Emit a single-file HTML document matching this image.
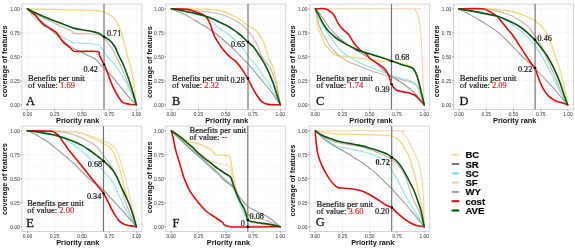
<!DOCTYPE html>
<html><head><meta charset="utf-8"><style>
html,body{margin:0;padding:0;background:#fff;}
svg{display:block;will-change:transform;}
.tk{font-family:"Liberation Sans",sans-serif;font-size:4.9px;fill:#4a4a4a;stroke:#4a4a4a;stroke-width:0.06px;}
.at{font-family:"Liberation Sans",sans-serif;font-size:7.35px;font-weight:bold;fill:#111;}
.lb{font-family:"Liberation Serif",serif;font-size:8.2px;fill:#1a1a1a;stroke:#1a1a1a;stroke-width:0.22px;}
.bn{font-family:"Liberation Serif",serif;font-size:8.5px;fill:#151515;stroke:#151515;stroke-width:0.2px;}
.rv{fill:#d42a32;stroke:#d42a32;}
.pl{font-family:"Liberation Serif",serif;font-size:12.4px;fill:#111;stroke:#111;stroke-width:0.28px;}
.lg{font-family:"Liberation Sans",sans-serif;font-size:9.6px;font-weight:bold;fill:#000;stroke:#000;stroke-width:0.15px;}
</style></head><body>
<svg width="575" height="248" viewBox="0 0 575 248">
<rect x="21.95" y="4.1" width="119.9" height="105.5" fill="#fff"/>
<line x1="41.02" y1="4.1" x2="41.02" y2="109.6" stroke="#f4f4f4" stroke-width="0.5"/>
<line x1="21.95" y1="92.81" x2="141.85" y2="92.81" stroke="#f4f4f4" stroke-width="0.5"/>
<line x1="68.28" y1="4.1" x2="68.28" y2="109.6" stroke="#f4f4f4" stroke-width="0.5"/>
<line x1="21.95" y1="68.84" x2="141.85" y2="68.84" stroke="#f4f4f4" stroke-width="0.5"/>
<line x1="95.53" y1="4.1" x2="95.53" y2="109.6" stroke="#f4f4f4" stroke-width="0.5"/>
<line x1="21.95" y1="44.86" x2="141.85" y2="44.86" stroke="#f4f4f4" stroke-width="0.5"/>
<line x1="122.78" y1="4.1" x2="122.78" y2="109.6" stroke="#f4f4f4" stroke-width="0.5"/>
<line x1="21.95" y1="20.89" x2="141.85" y2="20.89" stroke="#f4f4f4" stroke-width="0.5"/>
<line x1="27.4" y1="4.1" x2="27.4" y2="109.6" stroke="#ececec" stroke-width="0.6"/>
<line x1="21.95" y1="104.8" x2="141.85" y2="104.8" stroke="#ececec" stroke-width="0.6"/>
<line x1="54.65" y1="4.1" x2="54.65" y2="109.6" stroke="#ececec" stroke-width="0.6"/>
<line x1="21.95" y1="80.83" x2="141.85" y2="80.83" stroke="#ececec" stroke-width="0.6"/>
<line x1="81.9" y1="4.1" x2="81.9" y2="109.6" stroke="#ececec" stroke-width="0.6"/>
<line x1="21.95" y1="56.85" x2="141.85" y2="56.85" stroke="#ececec" stroke-width="0.6"/>
<line x1="109.15" y1="4.1" x2="109.15" y2="109.6" stroke="#ececec" stroke-width="0.6"/>
<line x1="21.95" y1="32.88" x2="141.85" y2="32.88" stroke="#ececec" stroke-width="0.6"/>
<line x1="136.4" y1="4.1" x2="136.4" y2="109.6" stroke="#ececec" stroke-width="0.6"/>
<line x1="21.95" y1="8.9" x2="141.85" y2="8.9" stroke="#ececec" stroke-width="0.6"/>
<rect x="21.95" y="4.1" width="119.9" height="105.5" fill="none" stroke="#d0d0d0" stroke-width="0.9"/>
<line x1="20.35" y1="104.8" x2="21.95" y2="104.8" stroke="#444" stroke-width="0.5"/>
<line x1="27.4" y1="109.6" x2="27.4" y2="111.2" stroke="#444" stroke-width="0.5"/>
<text x="19.75" y="106.6" class="tk" text-anchor="end">0.00</text>
<text x="27.4" y="116.4" class="tk" text-anchor="middle">0.00</text>
<line x1="20.35" y1="80.83" x2="21.95" y2="80.83" stroke="#444" stroke-width="0.5"/>
<line x1="54.65" y1="109.6" x2="54.65" y2="111.2" stroke="#444" stroke-width="0.5"/>
<text x="19.75" y="82.63" class="tk" text-anchor="end">0.25</text>
<text x="54.65" y="116.4" class="tk" text-anchor="middle">0.25</text>
<line x1="20.35" y1="56.85" x2="21.95" y2="56.85" stroke="#444" stroke-width="0.5"/>
<line x1="81.9" y1="109.6" x2="81.9" y2="111.2" stroke="#444" stroke-width="0.5"/>
<text x="19.75" y="58.65" class="tk" text-anchor="end">0.50</text>
<text x="81.9" y="116.4" class="tk" text-anchor="middle">0.50</text>
<line x1="20.35" y1="32.88" x2="21.95" y2="32.88" stroke="#444" stroke-width="0.5"/>
<line x1="109.15" y1="109.6" x2="109.15" y2="111.2" stroke="#444" stroke-width="0.5"/>
<text x="19.75" y="34.67" class="tk" text-anchor="end">0.75</text>
<text x="109.15" y="116.4" class="tk" text-anchor="middle">0.75</text>
<line x1="20.35" y1="8.9" x2="21.95" y2="8.9" stroke="#444" stroke-width="0.5"/>
<line x1="136.4" y1="109.6" x2="136.4" y2="111.2" stroke="#444" stroke-width="0.5"/>
<text x="19.75" y="10.7" class="tk" text-anchor="end">1.00</text>
<text x="136.4" y="116.4" class="tk" text-anchor="middle">1.00</text>
<text x="77.7" y="123.2" class="at" text-anchor="middle">Priority rank</text>
<text transform="translate(6.8,61.3) rotate(-90)" class="at" text-anchor="middle">coverage of features</text>
<path d="M27.4,8.9 C32.83,9.02 48.55,9.33 60,9.6 C71.45,9.87 88.63,10.05 96.1,10.5 C103.57,10.95 102.18,11.35 104.8,12.3 C107.42,13.25 109.85,14.65 111.8,16.2 C113.75,17.75 115.07,19.3 116.5,21.6 C117.93,23.9 119.08,26.4 120.4,30 C121.72,33.6 123.3,39.03 124.4,43.2 C125.5,47.37 126.02,51.25 127,55 C127.98,58.75 129.22,61.43 130.3,65.7 C131.38,69.97 132.48,74.08 133.5,80.6 C134.52,87.12 135.92,100.77 136.4,104.8" fill="none" stroke="#f0d87c" stroke-width="1.3" stroke-linejoin="round" stroke-linecap="round"/>
<path d="M27.4,8.9 C30.13,10.45 38.37,15.4 43.8,18.2 C49.23,21 55.28,23.53 60,25.7 C64.72,27.87 69.72,29.92 72.1,31.2 C74.48,32.48 69.93,32.85 74.3,33.4 C78.67,33.95 93.22,33.58 98.3,34.5 C103.38,35.42 102.68,36.82 104.8,38.9 C106.92,40.98 109.25,44.32 111,47 C112.75,49.68 113.7,51.88 115.3,55 C116.9,58.12 118.82,61.78 120.6,65.7 C122.38,69.62 124.22,74.23 126,78.5 C127.78,82.77 129.57,86.92 131.3,91.3 C133.03,95.68 135.55,102.55 136.4,104.8" fill="none" stroke="#c9b3a6" stroke-width="1.1" stroke-linejoin="round" stroke-linecap="round"/>
<path d="M27.4,8.9 C28.48,10.27 31.18,14.3 33.9,17.1 C36.62,19.9 40.25,23.17 43.7,25.7 C47.15,28.23 50.97,30.12 54.6,32.3 C58.23,34.48 62.6,37.18 65.5,38.8 C68.4,40.42 70.53,41.33 72,42 C73.47,42.67 70.28,42.42 74.3,42.8 C78.32,43.18 91.57,43.5 96.1,44.3 C100.63,45.1 99.93,45.9 101.5,47.6 C103.07,49.3 103.73,52.2 105.5,54.5 C107.27,56.8 109.93,58.82 112.1,61.4 C114.27,63.98 116.37,66.8 118.5,70 C120.63,73.2 122.93,77.05 124.9,80.6 C126.87,84.15 128.38,87.27 130.3,91.3 C132.22,95.33 135.38,102.55 136.4,104.8" fill="none" stroke="#90e4e4" stroke-width="1.1" stroke-linejoin="round" stroke-linecap="round"/>
<path d="M27.4,8.9 C29.4,10.63 35.58,15.93 39.4,19.3 C43.22,22.67 46.67,25.83 50.3,29.1 C53.93,32.37 57.57,35.82 61.2,38.9 C64.83,41.98 67.73,44.88 72.1,47.6 C76.47,50.32 83.77,53.47 87.4,55.2 C91.03,56.93 92.27,57.03 93.9,58 C95.53,58.97 95.6,59.37 97.2,61 C98.8,62.63 101.02,65.23 103.5,67.8 C105.98,70.37 109.25,73.18 112.1,76.4 C114.95,79.62 117.75,83.55 120.6,87.1 C123.45,90.65 126.57,94.75 129.2,97.7 C131.83,100.65 135.2,103.62 136.4,104.8" fill="none" stroke="#959595" stroke-width="1.05" stroke-linejoin="round" stroke-linecap="round"/>
<path d="M27.4,8.9 C28.67,9.9 33,13 35,14.9 C37,16.8 37.95,18.67 39.4,20.3 C40.85,21.93 42.07,23.43 43.7,24.7 C45.33,25.97 47.38,26.82 49.2,27.9 C51.02,28.98 53.15,30.12 54.6,31.2 C56.05,32.28 56.63,32.77 57.9,34.4 C59.17,36.03 60.93,39.37 62.2,41 C63.47,42.63 64.23,43.12 65.5,44.2 C66.77,45.28 68.53,46.42 69.8,47.5 C71.07,48.58 72.02,50.03 73.1,50.7 C74.18,51.37 72.28,51.37 76.3,51.5 C80.32,51.63 93.37,50.92 97.2,51.5 C101.03,52.08 98.42,53.35 99.3,55 C100.18,56.65 101.72,59.82 102.5,61.4 C103.28,62.98 103.47,63.43 104,64.5 C104.53,65.57 104.88,65.82 105.7,67.8 C106.52,69.78 107.83,73.55 108.9,76.4 C109.97,79.25 110.85,82.05 112.1,84.9 C113.35,87.75 114.98,91 116.4,93.5 C117.82,96 119.45,98.38 120.6,99.9 C121.75,101.42 122.4,101.98 123.3,102.6 C124.2,103.22 124.88,103.33 126,103.6 C127.12,103.87 128.27,104 130,104.2 C131.73,104.4 135.33,104.7 136.4,104.8" fill="none" stroke="#e00c0c" stroke-width="1.6" stroke-linejoin="round" stroke-linecap="round"/>
<path d="M27.4,8.9 C29.05,9.72 33.48,12.07 37.3,13.8 C41.12,15.53 44.5,17.02 50.3,19.3 C56.1,21.58 68.1,25.98 72.1,27.5 C76.1,29.02 70.67,27.67 74.3,28.4 C77.93,29.13 89.55,30.95 93.9,31.9 C98.25,32.85 98.77,33.3 100.4,34.1 C102.03,34.9 102.25,35.73 103.7,36.7 C105.15,37.67 107.3,38.35 109.1,39.9 C110.9,41.45 112.93,43.48 114.5,46 C116.07,48.52 117.12,52.08 118.5,55 C119.88,57.92 121.38,60.3 122.8,63.5 C124.22,66.7 125.58,70.27 127,74.2 C128.42,78.13 129.73,82 131.3,87.1 C132.87,92.2 135.55,101.85 136.4,104.8" fill="none" stroke="#0a550f" stroke-width="1.6" stroke-linejoin="round" stroke-linecap="round"/>
<line x1="104" y1="4.1" x2="104" y2="109.6" stroke="#707070" stroke-width="1.15"/>
<circle cx="104" cy="36.7" r="1.3" fill="#000"/>
<text x="106.9" y="35.9" class="lb">0.71</text>
<circle cx="104" cy="64.5" r="1.3" fill="#000"/>
<text x="83.5" y="72" class="lb">0.42</text>
<text x="28" y="80.6" class="bn">Benefits per unit</text>
<text x="28" y="87.7" class="bn">of value: <tspan class="rv">1.69</tspan></text>
<text x="26" y="105.4" class="pl">A</text>
<rect x="165.85" y="4.1" width="119.9" height="105.5" fill="#fff"/>
<line x1="184.93" y1="4.1" x2="184.93" y2="109.6" stroke="#f4f4f4" stroke-width="0.5"/>
<line x1="165.85" y1="92.81" x2="285.75" y2="92.81" stroke="#f4f4f4" stroke-width="0.5"/>
<line x1="212.18" y1="4.1" x2="212.18" y2="109.6" stroke="#f4f4f4" stroke-width="0.5"/>
<line x1="165.85" y1="68.84" x2="285.75" y2="68.84" stroke="#f4f4f4" stroke-width="0.5"/>
<line x1="239.43" y1="4.1" x2="239.43" y2="109.6" stroke="#f4f4f4" stroke-width="0.5"/>
<line x1="165.85" y1="44.86" x2="285.75" y2="44.86" stroke="#f4f4f4" stroke-width="0.5"/>
<line x1="266.68" y1="4.1" x2="266.68" y2="109.6" stroke="#f4f4f4" stroke-width="0.5"/>
<line x1="165.85" y1="20.89" x2="285.75" y2="20.89" stroke="#f4f4f4" stroke-width="0.5"/>
<line x1="171.3" y1="4.1" x2="171.3" y2="109.6" stroke="#ececec" stroke-width="0.6"/>
<line x1="165.85" y1="104.8" x2="285.75" y2="104.8" stroke="#ececec" stroke-width="0.6"/>
<line x1="198.55" y1="4.1" x2="198.55" y2="109.6" stroke="#ececec" stroke-width="0.6"/>
<line x1="165.85" y1="80.83" x2="285.75" y2="80.83" stroke="#ececec" stroke-width="0.6"/>
<line x1="225.8" y1="4.1" x2="225.8" y2="109.6" stroke="#ececec" stroke-width="0.6"/>
<line x1="165.85" y1="56.85" x2="285.75" y2="56.85" stroke="#ececec" stroke-width="0.6"/>
<line x1="253.05" y1="4.1" x2="253.05" y2="109.6" stroke="#ececec" stroke-width="0.6"/>
<line x1="165.85" y1="32.88" x2="285.75" y2="32.88" stroke="#ececec" stroke-width="0.6"/>
<line x1="280.3" y1="4.1" x2="280.3" y2="109.6" stroke="#ececec" stroke-width="0.6"/>
<line x1="165.85" y1="8.9" x2="285.75" y2="8.9" stroke="#ececec" stroke-width="0.6"/>
<rect x="165.85" y="4.1" width="119.9" height="105.5" fill="none" stroke="#d0d0d0" stroke-width="0.9"/>
<line x1="164.25" y1="104.8" x2="165.85" y2="104.8" stroke="#444" stroke-width="0.5"/>
<line x1="171.3" y1="109.6" x2="171.3" y2="111.2" stroke="#444" stroke-width="0.5"/>
<text x="163.65" y="106.6" class="tk" text-anchor="end">0.00</text>
<text x="171.3" y="116.4" class="tk" text-anchor="middle">0.00</text>
<line x1="164.25" y1="80.83" x2="165.85" y2="80.83" stroke="#444" stroke-width="0.5"/>
<line x1="198.55" y1="109.6" x2="198.55" y2="111.2" stroke="#444" stroke-width="0.5"/>
<text x="163.65" y="82.63" class="tk" text-anchor="end">0.25</text>
<text x="198.55" y="116.4" class="tk" text-anchor="middle">0.25</text>
<line x1="164.25" y1="56.85" x2="165.85" y2="56.85" stroke="#444" stroke-width="0.5"/>
<line x1="225.8" y1="109.6" x2="225.8" y2="111.2" stroke="#444" stroke-width="0.5"/>
<text x="163.65" y="58.65" class="tk" text-anchor="end">0.50</text>
<text x="225.8" y="116.4" class="tk" text-anchor="middle">0.50</text>
<line x1="164.25" y1="32.88" x2="165.85" y2="32.88" stroke="#444" stroke-width="0.5"/>
<line x1="253.05" y1="109.6" x2="253.05" y2="111.2" stroke="#444" stroke-width="0.5"/>
<text x="163.65" y="34.67" class="tk" text-anchor="end">0.75</text>
<text x="253.05" y="116.4" class="tk" text-anchor="middle">0.75</text>
<line x1="164.25" y1="8.9" x2="165.85" y2="8.9" stroke="#444" stroke-width="0.5"/>
<line x1="280.3" y1="109.6" x2="280.3" y2="111.2" stroke="#444" stroke-width="0.5"/>
<text x="163.65" y="10.7" class="tk" text-anchor="end">1.00</text>
<text x="280.3" y="116.4" class="tk" text-anchor="middle">1.00</text>
<text x="226.8" y="123.2" class="at" text-anchor="middle">Priority rank</text>
<text transform="translate(152,62.2) rotate(-90)" class="at" text-anchor="middle">coverage of features</text>
<path d="M171.4,8.8 C175.22,8.8 187.93,8.7 194.3,8.8 C200.67,8.9 205.23,9.12 209.6,9.4 C213.97,9.68 217.23,9.77 220.5,10.5 C223.77,11.23 226.3,12.52 229.2,13.8 C232.1,15.08 235,16.38 237.9,18.2 C240.8,20.02 243.7,22.72 246.6,24.7 C249.5,26.68 252.75,27.73 255.3,30.1 C257.85,32.47 260.08,35.62 261.9,38.9 C263.72,42.18 265.05,46.62 266.2,49.8 C267.35,52.98 267.7,55.15 268.8,58 C269.9,60.85 271.42,62.52 272.8,66.9 C274.18,71.28 275.85,77.98 277.1,84.3 C278.35,90.62 279.77,101.38 280.3,104.8" fill="none" stroke="#f0d87c" stroke-width="1.3" stroke-linejoin="round" stroke-linecap="round"/>
<path d="M171.4,8.8 C175.22,9.08 187.22,9.85 194.3,10.5 C201.38,11.15 208.45,11.7 213.9,12.7 C219.35,13.7 222.82,14.87 227,16.5 C231.18,18.13 235.42,20 239,22.5 C242.58,25 245.58,28.05 248.5,31.5 C251.42,34.95 254.22,38.95 256.5,43.2 C258.78,47.45 259.85,52.68 262.2,57 C264.55,61.32 268.3,64.55 270.6,69.1 C272.9,73.65 274.38,78.35 276,84.3 C277.62,90.25 279.58,101.38 280.3,104.8" fill="none" stroke="#c9b3a6" stroke-width="1.1" stroke-linejoin="round" stroke-linecap="round"/>
<path d="M171.4,8.8 C173,9.08 177.22,9.78 181,10.5 C184.78,11.22 190.1,12.15 194.1,13.1 C198.1,14.05 202.1,14.92 205,16.2 C207.9,17.48 209.33,18.97 211.5,20.8 C213.67,22.63 215.17,24.92 218,27.2 C220.83,29.48 225.18,31.87 228.5,34.5 C231.82,37.13 235.25,40.42 237.9,43 C240.55,45.58 242.58,47.67 244.4,50 C246.22,52.33 246.62,54.18 248.8,57 C250.98,59.82 254.6,63.07 257.5,66.9 C260.4,70.73 263.3,75.47 266.2,80 C269.1,84.53 272.55,89.97 274.9,94.1 C277.25,98.23 279.4,103.02 280.3,104.8" fill="none" stroke="#90e4e4" stroke-width="1.1" stroke-linejoin="round" stroke-linecap="round"/>
<path d="M171.4,8.8 C173.75,9.82 181,12.62 185.5,14.9 C190,17.18 194.07,19.9 198.4,22.5 C202.73,25.1 206.73,27.08 211.5,30.5 C216.27,33.92 222.97,39.58 227,43 C231.03,46.42 233.15,48.5 235.7,51 C238.25,53.5 240.12,55.72 242.3,58 C244.48,60.28 245.9,61.4 248.8,64.7 C251.7,68 256.07,73.43 259.7,77.8 C263.33,82.17 267.17,86.4 270.6,90.9 C274.03,95.4 278.68,102.48 280.3,104.8" fill="none" stroke="#959595" stroke-width="1.05" stroke-linejoin="round" stroke-linecap="round"/>
<path d="M171.4,8.8 C174.1,8.9 183.45,8.82 187.6,9.4 C191.75,9.98 193.77,11.47 196.3,12.3 C198.83,13.13 201,13.43 202.8,14.4 C204.6,15.37 205.83,16.38 207.1,18.1 C208.37,19.82 209.48,22.52 210.4,24.7 C211.32,26.88 211.88,29.22 212.6,31.2 C213.32,33.18 213.8,34.8 214.7,36.6 C215.6,38.4 216.73,40 218,42 C219.27,44 220.63,46.42 222.3,48.6 C223.97,50.78 226.48,53.53 228,55.1 C229.52,56.67 230.12,56.95 231.4,58 C232.68,59.05 233.88,59.47 235.7,61.4 C237.52,63.33 240.3,66.77 242.3,69.6 C244.3,72.43 246.08,75.53 247.7,78.4 C249.32,81.27 250.37,83.82 252,86.8 C253.63,89.78 255.85,93.8 257.5,96.3 C259.15,98.8 260.08,100.45 261.9,101.8 C263.72,103.15 265.33,103.9 268.4,104.4 C271.47,104.9 278.32,104.73 280.3,104.8" fill="none" stroke="#e00c0c" stroke-width="1.6" stroke-linejoin="round" stroke-linecap="round"/>
<path d="M171.4,8.8 C173,9.08 177.22,9.78 181,10.5 C184.78,11.22 190.1,12.18 194.1,13.1 C198.1,14.02 201.73,14.98 205,16 C208.27,17.02 211.17,18.12 213.7,19.2 C216.23,20.28 217.82,21.33 220.2,22.5 C222.58,23.67 225.87,25.03 228,26.2 C230.13,27.37 231.35,28.37 233,29.5 C234.65,30.63 236.18,31.67 237.9,33 C239.62,34.33 241.67,36 243.3,37.5 C244.93,39 246.07,40.5 247.7,42 C249.33,43.5 251.1,44.17 253.1,46.5 C255.1,48.83 257.52,52.6 259.7,56 C261.88,59.4 264.02,62.55 266.2,66.9 C268.38,71.25 270.98,77.38 272.8,82.1 C274.62,86.82 275.85,91.42 277.1,95.2 C278.35,98.98 279.77,103.2 280.3,104.8" fill="none" stroke="#0a550f" stroke-width="1.6" stroke-linejoin="round" stroke-linecap="round"/>
<line x1="248" y1="4.1" x2="248" y2="109.6" stroke="#707070" stroke-width="1.15"/>
<circle cx="248" cy="42" r="1.3" fill="#000"/>
<text x="230.9" y="46.5" class="lb">0.65</text>
<circle cx="248" cy="78.4" r="1.3" fill="#000"/>
<text x="230.4" y="83" class="lb">0.28</text>
<text x="172.1" y="80.8" class="bn">Benefits per unit</text>
<text x="172.1" y="87.9" class="bn">of value: <tspan class="rv">2.32</tspan></text>
<text x="171.9" y="105.1" class="pl">B</text>
<rect x="309.75" y="4.1" width="119.9" height="105.5" fill="#fff"/>
<line x1="328.82" y1="4.1" x2="328.82" y2="109.6" stroke="#f4f4f4" stroke-width="0.5"/>
<line x1="309.75" y1="92.81" x2="429.65" y2="92.81" stroke="#f4f4f4" stroke-width="0.5"/>
<line x1="356.07" y1="4.1" x2="356.07" y2="109.6" stroke="#f4f4f4" stroke-width="0.5"/>
<line x1="309.75" y1="68.84" x2="429.65" y2="68.84" stroke="#f4f4f4" stroke-width="0.5"/>
<line x1="383.32" y1="4.1" x2="383.32" y2="109.6" stroke="#f4f4f4" stroke-width="0.5"/>
<line x1="309.75" y1="44.86" x2="429.65" y2="44.86" stroke="#f4f4f4" stroke-width="0.5"/>
<line x1="410.57" y1="4.1" x2="410.57" y2="109.6" stroke="#f4f4f4" stroke-width="0.5"/>
<line x1="309.75" y1="20.89" x2="429.65" y2="20.89" stroke="#f4f4f4" stroke-width="0.5"/>
<line x1="315.2" y1="4.1" x2="315.2" y2="109.6" stroke="#ececec" stroke-width="0.6"/>
<line x1="309.75" y1="104.8" x2="429.65" y2="104.8" stroke="#ececec" stroke-width="0.6"/>
<line x1="342.45" y1="4.1" x2="342.45" y2="109.6" stroke="#ececec" stroke-width="0.6"/>
<line x1="309.75" y1="80.83" x2="429.65" y2="80.83" stroke="#ececec" stroke-width="0.6"/>
<line x1="369.7" y1="4.1" x2="369.7" y2="109.6" stroke="#ececec" stroke-width="0.6"/>
<line x1="309.75" y1="56.85" x2="429.65" y2="56.85" stroke="#ececec" stroke-width="0.6"/>
<line x1="396.95" y1="4.1" x2="396.95" y2="109.6" stroke="#ececec" stroke-width="0.6"/>
<line x1="309.75" y1="32.88" x2="429.65" y2="32.88" stroke="#ececec" stroke-width="0.6"/>
<line x1="424.2" y1="4.1" x2="424.2" y2="109.6" stroke="#ececec" stroke-width="0.6"/>
<line x1="309.75" y1="8.9" x2="429.65" y2="8.9" stroke="#ececec" stroke-width="0.6"/>
<rect x="309.75" y="4.1" width="119.9" height="105.5" fill="none" stroke="#d0d0d0" stroke-width="0.9"/>
<line x1="308.15" y1="104.8" x2="309.75" y2="104.8" stroke="#444" stroke-width="0.5"/>
<line x1="315.2" y1="109.6" x2="315.2" y2="111.2" stroke="#444" stroke-width="0.5"/>
<text x="307.55" y="106.6" class="tk" text-anchor="end">0.00</text>
<text x="315.2" y="116.4" class="tk" text-anchor="middle">0.00</text>
<line x1="308.15" y1="80.83" x2="309.75" y2="80.83" stroke="#444" stroke-width="0.5"/>
<line x1="342.45" y1="109.6" x2="342.45" y2="111.2" stroke="#444" stroke-width="0.5"/>
<text x="307.55" y="82.63" class="tk" text-anchor="end">0.25</text>
<text x="342.45" y="116.4" class="tk" text-anchor="middle">0.25</text>
<line x1="308.15" y1="56.85" x2="309.75" y2="56.85" stroke="#444" stroke-width="0.5"/>
<line x1="369.7" y1="109.6" x2="369.7" y2="111.2" stroke="#444" stroke-width="0.5"/>
<text x="307.55" y="58.65" class="tk" text-anchor="end">0.50</text>
<text x="369.7" y="116.4" class="tk" text-anchor="middle">0.50</text>
<line x1="308.15" y1="32.88" x2="309.75" y2="32.88" stroke="#444" stroke-width="0.5"/>
<line x1="396.95" y1="109.6" x2="396.95" y2="111.2" stroke="#444" stroke-width="0.5"/>
<text x="307.55" y="34.67" class="tk" text-anchor="end">0.75</text>
<text x="396.95" y="116.4" class="tk" text-anchor="middle">0.75</text>
<line x1="308.15" y1="8.9" x2="309.75" y2="8.9" stroke="#444" stroke-width="0.5"/>
<line x1="424.2" y1="109.6" x2="424.2" y2="111.2" stroke="#444" stroke-width="0.5"/>
<text x="307.55" y="10.7" class="tk" text-anchor="end">1.00</text>
<text x="424.2" y="116.4" class="tk" text-anchor="middle">1.00</text>
<text x="371" y="123.2" class="at" text-anchor="middle">Priority rank</text>
<text transform="translate(294.7,61.3) rotate(-90)" class="at" text-anchor="middle">coverage of features</text>
<path d="M315.4,8.8 C315.58,9.83 316.05,11.7 316.5,15 C316.95,18.3 317.23,25.12 318.1,28.6 C318.97,32.08 320.55,33.27 321.7,35.9 C322.85,38.53 323.8,42.22 325,44.4 C326.2,46.58 327.4,47.38 328.9,49 C330.4,50.62 332.13,52.9 334,54.1 C335.87,55.3 337.42,55.68 340.1,56.2 C342.78,56.72 346.75,56.87 350.1,57.2 C353.45,57.53 356.85,57.77 360.2,58.2 C363.55,58.63 366.9,59.35 370.2,59.8 C373.5,60.25 376.45,60.58 380,60.9 C383.55,61.22 387.67,61.18 391.5,61.7 C395.33,62.22 399.75,63.2 403,64 C406.25,64.8 409,65.5 411,66.5 C413,67.5 413.83,67.75 415,70 C416.17,72.25 417,76.33 418,80 C419,83.67 419.97,87.87 421,92 C422.03,96.13 423.67,102.67 424.2,104.8" fill="none" stroke="#f0d87c" stroke-width="1.3" stroke-linejoin="round" stroke-linecap="round"/>
<path d="M315.4,8.8 C331.57,8.8 395.87,8.7 412.4,8.8 C428.93,8.9 413.7,8.38 414.6,9.4 C415.5,10.42 416.9,12.17 417.8,14.9 C418.7,17.63 419.45,22.17 420,25.8 C420.55,29.43 420.73,31.33 421.1,36.7 C421.47,42.07 421.88,50.78 422.2,58 C422.52,65.22 422.67,72.2 423,80 C423.33,87.8 424,100.67 424.2,104.8" fill="none" stroke="#f6d3ad" stroke-width="1.1" stroke-linejoin="round" stroke-linecap="round"/>
<path d="M315.4,8.8 C315.75,10.33 316.82,15.13 317.5,18 C318.18,20.87 318.67,23.5 319.5,26 C320.33,28.5 321.42,30.83 322.5,33 C323.58,35.17 324.87,37 326,39 C327.13,41 327.97,43 329.3,45 C330.63,47 332.12,49.02 334,51 C335.88,52.98 338.27,55.15 340.6,56.9 C342.93,58.65 345.18,60.08 348,61.5 C350.82,62.92 353.57,63.82 357.5,65.4 C361.43,66.98 367.85,69.65 371.6,71 C375.35,72.35 376.7,72.55 380,73.5 C383.3,74.45 387.9,75.7 391.4,76.7 C394.9,77.7 397.72,78.57 401,79.5 C404.28,80.43 408.67,81.38 411.1,82.3 C413.53,83.22 414.18,83.88 415.6,85 C417.02,86.12 418.17,85.7 419.6,89 C421.03,92.3 423.43,102.17 424.2,104.8" fill="none" stroke="#c9b3a6" stroke-width="1.1" stroke-linejoin="round" stroke-linecap="round"/>
<path d="M315.4,8.8 C315.92,10.17 317.45,14.47 318.5,17 C319.55,19.53 320.45,21.75 321.7,24 C322.95,26.25 324.62,28.5 326,30.5 C327.38,32.5 328.67,34.08 330,36 C331.33,37.92 332.7,40.08 334,42 C335.3,43.92 336.3,45.75 337.8,47.5 C339.3,49.25 341.12,50.93 343,52.5 C344.88,54.07 346.77,55.4 349.1,56.9 C351.43,58.4 354.18,60.08 357,61.5 C359.82,62.92 363.33,64.23 366,65.4 C368.67,66.57 370.65,67.57 373,68.5 C375.35,69.43 377.03,69.87 380.1,71 C383.17,72.13 387.92,74.05 391.4,75.3 C394.88,76.55 397.72,77.57 401,78.5 C404.28,79.43 408.47,79.8 411.1,80.9 C413.73,82 415.35,82.78 416.8,85.1 C418.25,87.42 418.57,91.52 419.8,94.8 C421.03,98.08 423.47,103.13 424.2,104.8" fill="none" stroke="#90e4e4" stroke-width="1.1" stroke-linejoin="round" stroke-linecap="round"/>
<path d="M315.4,8.8 C316.13,9.63 318.37,11.93 319.8,13.8 C321.23,15.67 322.3,17.55 324,20 C325.7,22.45 327.67,25.67 330,28.5 C332.33,31.33 335.32,34.5 338,37 C340.68,39.5 343.42,41.5 346.1,43.5 C348.78,45.5 351.08,47.08 354.1,49 C357.12,50.92 360.83,52.97 364.2,55 C367.57,57.03 371.67,59.2 374.3,61.2 C376.93,63.2 378,65.12 380,67 C382,68.88 384.2,70.83 386.3,72.5 C388.4,74.17 390.15,75.37 392.6,77 C395.05,78.63 398.2,80.38 401,82.3 C403.8,84.22 406.97,86.58 409.4,88.5 C411.83,90.42 413.13,91.08 415.6,93.8 C418.07,96.52 422.77,102.97 424.2,104.8" fill="none" stroke="#959595" stroke-width="1.05" stroke-linejoin="round" stroke-linecap="round"/>
<path d="M315.4,8.8 C317.03,8.8 322.47,8.15 325.2,8.8 C327.93,9.45 330.15,11.32 331.8,12.7 C333.45,14.08 334.02,15.28 335.1,17.1 C336.18,18.92 337.03,21.6 338.3,23.6 C339.57,25.6 341.07,27.37 342.7,29.1 C344.33,30.83 346.53,32.17 348.1,34 C349.67,35.83 350.75,38.08 352.1,40.1 C353.45,42.12 354.85,44.43 356.2,46.1 C357.55,47.77 358.53,48.78 360.2,50.1 C361.87,51.42 364.57,52.6 366.2,54 C367.83,55.4 368.15,56.95 370,58.5 C371.85,60.05 374.88,61.63 377.3,63.3 C379.72,64.97 382.68,66.68 384.5,68.5 C386.32,70.32 387.18,72.12 388.2,74.2 C389.22,76.28 390.05,79.33 390.6,81 C391.15,82.67 390.93,83.03 391.5,84.2 C392.07,85.37 393.08,86.98 394,88 C394.92,89.02 395.83,89.73 397,90.3 C398.17,90.87 398.93,90.95 401,91.4 C403.07,91.85 407.13,92.4 409.4,93 C411.67,93.6 413.03,94 414.6,95 C416.17,96 417.2,97.37 418.8,99 C420.4,100.63 423.3,103.83 424.2,104.8" fill="none" stroke="#e00c0c" stroke-width="1.6" stroke-linejoin="round" stroke-linecap="round"/>
<path d="M315.4,8.8 C315.67,9.33 316.45,10.98 317,12 C317.55,13.02 318.03,13.65 318.7,14.9 C319.37,16.15 320.27,18.05 321,19.5 C321.73,20.95 322.27,22.18 323.1,23.6 C323.93,25.02 324.92,26.55 326,28 C327.08,29.45 327.93,30.63 329.6,32.3 C331.27,33.97 333.58,36.2 336,38 C338.42,39.8 341.42,41.58 344.1,43.1 C346.78,44.62 349.42,45.77 352.1,47.1 C354.78,48.43 357.18,49.93 360.2,51.1 C363.22,52.27 366.9,53.1 370.2,54.1 C373.5,55.1 376.42,55.95 380,57.1 C383.58,58.25 388.2,59.78 391.7,61 C395.2,62.22 397.72,63.3 401,64.4 C404.28,65.5 409.13,66.55 411.4,67.6 C413.67,68.65 413.55,68.95 414.6,70.7 C415.65,72.45 416.65,74.78 417.7,78.1 C418.75,81.42 419.82,86.15 420.9,90.6 C421.98,95.05 423.65,102.43 424.2,104.8" fill="none" stroke="#0a550f" stroke-width="1.6" stroke-linejoin="round" stroke-linecap="round"/>
<line x1="391.5" y1="4.1" x2="391.5" y2="109.6" stroke="#707070" stroke-width="1.15"/>
<circle cx="391.5" cy="61" r="1.3" fill="#000"/>
<text x="395" y="59.7" class="lb">0.68</text>
<circle cx="391.5" cy="84.2" r="1.3" fill="#000"/>
<text x="375.3" y="91.6" class="lb">0.39</text>
<text x="316.2" y="80.7" class="bn">Benefits per unit</text>
<text x="316.2" y="87.8" class="bn">of value: <tspan class="rv">1.74</tspan></text>
<text x="316" y="105.1" class="pl">C</text>
<rect x="453.55" y="4.1" width="119.9" height="105.5" fill="#fff"/>
<line x1="472.62" y1="4.1" x2="472.62" y2="109.6" stroke="#f4f4f4" stroke-width="0.5"/>
<line x1="453.55" y1="92.81" x2="573.45" y2="92.81" stroke="#f4f4f4" stroke-width="0.5"/>
<line x1="499.88" y1="4.1" x2="499.88" y2="109.6" stroke="#f4f4f4" stroke-width="0.5"/>
<line x1="453.55" y1="68.84" x2="573.45" y2="68.84" stroke="#f4f4f4" stroke-width="0.5"/>
<line x1="527.12" y1="4.1" x2="527.12" y2="109.6" stroke="#f4f4f4" stroke-width="0.5"/>
<line x1="453.55" y1="44.86" x2="573.45" y2="44.86" stroke="#f4f4f4" stroke-width="0.5"/>
<line x1="554.38" y1="4.1" x2="554.38" y2="109.6" stroke="#f4f4f4" stroke-width="0.5"/>
<line x1="453.55" y1="20.89" x2="573.45" y2="20.89" stroke="#f4f4f4" stroke-width="0.5"/>
<line x1="459" y1="4.1" x2="459" y2="109.6" stroke="#ececec" stroke-width="0.6"/>
<line x1="453.55" y1="104.8" x2="573.45" y2="104.8" stroke="#ececec" stroke-width="0.6"/>
<line x1="486.25" y1="4.1" x2="486.25" y2="109.6" stroke="#ececec" stroke-width="0.6"/>
<line x1="453.55" y1="80.83" x2="573.45" y2="80.83" stroke="#ececec" stroke-width="0.6"/>
<line x1="513.5" y1="4.1" x2="513.5" y2="109.6" stroke="#ececec" stroke-width="0.6"/>
<line x1="453.55" y1="56.85" x2="573.45" y2="56.85" stroke="#ececec" stroke-width="0.6"/>
<line x1="540.75" y1="4.1" x2="540.75" y2="109.6" stroke="#ececec" stroke-width="0.6"/>
<line x1="453.55" y1="32.88" x2="573.45" y2="32.88" stroke="#ececec" stroke-width="0.6"/>
<line x1="568" y1="4.1" x2="568" y2="109.6" stroke="#ececec" stroke-width="0.6"/>
<line x1="453.55" y1="8.9" x2="573.45" y2="8.9" stroke="#ececec" stroke-width="0.6"/>
<rect x="453.55" y="4.1" width="119.9" height="105.5" fill="none" stroke="#d0d0d0" stroke-width="0.9"/>
<line x1="451.95" y1="104.8" x2="453.55" y2="104.8" stroke="#444" stroke-width="0.5"/>
<line x1="459" y1="109.6" x2="459" y2="111.2" stroke="#444" stroke-width="0.5"/>
<text x="451.35" y="106.6" class="tk" text-anchor="end">0.00</text>
<text x="459" y="116.4" class="tk" text-anchor="middle">0.00</text>
<line x1="451.95" y1="80.83" x2="453.55" y2="80.83" stroke="#444" stroke-width="0.5"/>
<line x1="486.25" y1="109.6" x2="486.25" y2="111.2" stroke="#444" stroke-width="0.5"/>
<text x="451.35" y="82.63" class="tk" text-anchor="end">0.25</text>
<text x="486.25" y="116.4" class="tk" text-anchor="middle">0.25</text>
<line x1="451.95" y1="56.85" x2="453.55" y2="56.85" stroke="#444" stroke-width="0.5"/>
<line x1="513.5" y1="109.6" x2="513.5" y2="111.2" stroke="#444" stroke-width="0.5"/>
<text x="451.35" y="58.65" class="tk" text-anchor="end">0.50</text>
<text x="513.5" y="116.4" class="tk" text-anchor="middle">0.50</text>
<line x1="451.95" y1="32.88" x2="453.55" y2="32.88" stroke="#444" stroke-width="0.5"/>
<line x1="540.75" y1="109.6" x2="540.75" y2="111.2" stroke="#444" stroke-width="0.5"/>
<text x="451.35" y="34.67" class="tk" text-anchor="end">0.75</text>
<text x="540.75" y="116.4" class="tk" text-anchor="middle">0.75</text>
<line x1="451.95" y1="8.9" x2="453.55" y2="8.9" stroke="#444" stroke-width="0.5"/>
<line x1="568" y1="109.6" x2="568" y2="111.2" stroke="#444" stroke-width="0.5"/>
<text x="451.35" y="10.7" class="tk" text-anchor="end">1.00</text>
<text x="568" y="116.4" class="tk" text-anchor="middle">1.00</text>
<text x="514.7" y="123.2" class="at" text-anchor="middle">Priority rank</text>
<text transform="translate(438.7,61.3) rotate(-90)" class="at" text-anchor="middle">coverage of features</text>
<path d="M458.7,8.8 C463.2,8.8 477.57,8.52 485.7,8.8 C493.83,9.08 501.33,9.48 507.5,10.5 C513.67,11.52 517.98,13.08 522.7,14.9 C527.42,16.72 532.17,18.87 535.8,21.4 C539.43,23.93 541.97,26.47 544.5,30.1 C547.03,33.73 549.18,38.72 551,43.2 C552.82,47.68 553.93,52.68 555.4,57 C556.87,61.32 558.35,64.18 559.8,69.1 C561.25,74.02 562.78,80.55 564.1,86.5 C565.42,92.45 567.1,101.75 567.7,104.8" fill="none" stroke="#f0d87c" stroke-width="1.3" stroke-linejoin="round" stroke-linecap="round"/>
<path d="M458.7,8.8 C463.2,8.8 478.3,8.15 485.7,8.8 C493.1,9.45 498.02,11.13 503.1,12.7 C508.18,14.27 512.2,16.02 516.2,18.2 C520.2,20.38 523.83,22.72 527.1,25.8 C530.37,28.88 533.27,33.07 535.8,36.7 C538.33,40.33 540.48,44.05 542.3,47.6 C544.12,51.15 545.08,54.27 546.7,58 C548.32,61.73 550.12,65.67 552,70 C553.88,74.33 556.17,79.67 558,84 C559.83,88.33 561.38,92.53 563,96 C564.62,99.47 566.92,103.33 567.7,104.8" fill="none" stroke="#c9b3a6" stroke-width="1.1" stroke-linejoin="round" stroke-linecap="round"/>
<path d="M458.7,8.8 C461.38,9.27 468.48,10.4 474.8,11.6 C481.12,12.8 491.15,14.37 496.6,16 C502.05,17.63 503.87,19.22 507.5,21.4 C511.13,23.58 515.13,26.55 518.4,29.1 C521.67,31.65 524.38,33.98 527.1,36.7 C529.82,39.42 532.17,42.02 534.7,45.4 C537.23,48.78 539.93,53.05 542.3,57 C544.67,60.95 546.72,64.92 548.9,69.1 C551.08,73.28 553.22,77.75 555.4,82.1 C557.58,86.45 559.95,91.42 562,95.2 C564.05,98.98 566.75,103.2 567.7,104.8" fill="none" stroke="#90e4e4" stroke-width="1.1" stroke-linejoin="round" stroke-linecap="round"/>
<path d="M458.7,8.8 C460.65,9.82 466.28,12.62 470.4,14.9 C474.52,17.18 479.05,19.78 483.4,22.5 C487.75,25.22 492.52,28.12 496.5,31.2 C500.48,34.28 504.22,38.03 507.3,41 C510.38,43.97 512.5,46.42 515,49 C517.5,51.58 519.88,54.17 522.3,56.5 C524.72,58.83 527.38,61 529.5,63 C531.62,65 532.5,65.92 535,68.5 C537.5,71.08 541.3,75.08 544.5,78.5 C547.7,81.92 550.33,84.62 554.2,89 C558.07,93.38 565.45,102.17 567.7,104.8" fill="none" stroke="#959595" stroke-width="1.05" stroke-linejoin="round" stroke-linecap="round"/>
<path d="M458.7,8.8 C462.63,8.8 477.45,8.47 482.3,8.8 C487.15,9.13 485.98,10 487.8,10.8 C489.62,11.6 491.57,12.6 493.2,13.6 C494.83,14.6 496.15,15.4 497.6,16.8 C499.05,18.2 500.45,20.22 501.9,22 C503.35,23.78 504.85,25.75 506.3,27.5 C507.75,29.25 509.15,30.67 510.6,32.5 C512.05,34.33 513.37,36.08 515,38.5 C516.63,40.92 518.58,44.17 520.4,47 C522.22,49.83 524.3,53.08 525.9,55.5 C527.5,57.92 528.48,59.33 530,61.5 C531.52,63.67 533.75,66.25 535,68.5 C536.25,70.75 536.65,72.73 537.5,75 C538.35,77.27 538.93,79.45 540.1,82.1 C541.27,84.75 543.03,88.53 544.5,90.9 C545.97,93.27 547.08,94.67 548.9,96.3 C550.72,97.93 553.23,99.62 555.4,100.7 C557.57,101.78 559.85,102.12 561.9,102.8 C563.95,103.48 566.73,104.47 567.7,104.8" fill="none" stroke="#e00c0c" stroke-width="1.6" stroke-linejoin="round" stroke-linecap="round"/>
<path d="M458.7,8.8 C461.38,9.27 468.48,10.4 474.8,11.6 C481.12,12.8 491.15,14.55 496.6,16 C502.05,17.45 503.87,18.67 507.5,20.3 C511.13,21.93 515.13,23.8 518.4,25.8 C521.67,27.8 524.38,29.95 527.1,32.3 C529.82,34.65 532.53,37.53 534.7,39.9 C536.87,42.27 537.92,43.65 540.1,46.5 C542.28,49.35 545.62,53.6 547.8,57 C549.98,60.4 551.2,62.72 553.2,66.9 C555.2,71.08 557.98,77.38 559.8,82.1 C561.62,86.82 562.78,91.42 564.1,95.2 C565.42,98.98 567.1,103.2 567.7,104.8" fill="none" stroke="#0a550f" stroke-width="1.6" stroke-linejoin="round" stroke-linecap="round"/>
<line x1="535.1" y1="4.1" x2="535.1" y2="109.6" stroke="#707070" stroke-width="1.15"/>
<circle cx="535.1" cy="39.9" r="1.3" fill="#000"/>
<text x="537.5" y="40.6" class="lb">0.46</text>
<circle cx="535.1" cy="68" r="1.3" fill="#000"/>
<text x="517.9" y="71.7" class="lb">0.22</text>
<text x="459.8" y="80.8" class="bn">Benefits per unit</text>
<text x="459.8" y="87.9" class="bn">of value: <tspan class="rv">2.09</tspan></text>
<text x="459.5" y="105" class="pl">D</text>
<rect x="21.95" y="126" width="119.9" height="105.5" fill="#fff"/>
<line x1="41.02" y1="126" x2="41.02" y2="231.5" stroke="#f4f4f4" stroke-width="0.5"/>
<line x1="21.95" y1="214.71" x2="141.85" y2="214.71" stroke="#f4f4f4" stroke-width="0.5"/>
<line x1="68.28" y1="126" x2="68.28" y2="231.5" stroke="#f4f4f4" stroke-width="0.5"/>
<line x1="21.95" y1="190.74" x2="141.85" y2="190.74" stroke="#f4f4f4" stroke-width="0.5"/>
<line x1="95.53" y1="126" x2="95.53" y2="231.5" stroke="#f4f4f4" stroke-width="0.5"/>
<line x1="21.95" y1="166.76" x2="141.85" y2="166.76" stroke="#f4f4f4" stroke-width="0.5"/>
<line x1="122.78" y1="126" x2="122.78" y2="231.5" stroke="#f4f4f4" stroke-width="0.5"/>
<line x1="21.95" y1="142.79" x2="141.85" y2="142.79" stroke="#f4f4f4" stroke-width="0.5"/>
<line x1="27.4" y1="126" x2="27.4" y2="231.5" stroke="#ececec" stroke-width="0.6"/>
<line x1="21.95" y1="226.7" x2="141.85" y2="226.7" stroke="#ececec" stroke-width="0.6"/>
<line x1="54.65" y1="126" x2="54.65" y2="231.5" stroke="#ececec" stroke-width="0.6"/>
<line x1="21.95" y1="202.73" x2="141.85" y2="202.73" stroke="#ececec" stroke-width="0.6"/>
<line x1="81.9" y1="126" x2="81.9" y2="231.5" stroke="#ececec" stroke-width="0.6"/>
<line x1="21.95" y1="178.75" x2="141.85" y2="178.75" stroke="#ececec" stroke-width="0.6"/>
<line x1="109.15" y1="126" x2="109.15" y2="231.5" stroke="#ececec" stroke-width="0.6"/>
<line x1="21.95" y1="154.78" x2="141.85" y2="154.78" stroke="#ececec" stroke-width="0.6"/>
<line x1="136.4" y1="126" x2="136.4" y2="231.5" stroke="#ececec" stroke-width="0.6"/>
<line x1="21.95" y1="130.8" x2="141.85" y2="130.8" stroke="#ececec" stroke-width="0.6"/>
<rect x="21.95" y="126" width="119.9" height="105.5" fill="none" stroke="#d0d0d0" stroke-width="0.9"/>
<line x1="20.35" y1="226.7" x2="21.95" y2="226.7" stroke="#444" stroke-width="0.5"/>
<line x1="27.4" y1="231.5" x2="27.4" y2="233.1" stroke="#444" stroke-width="0.5"/>
<text x="19.75" y="228.5" class="tk" text-anchor="end">0.00</text>
<text x="27.4" y="238.3" class="tk" text-anchor="middle">0.00</text>
<line x1="20.35" y1="202.73" x2="21.95" y2="202.73" stroke="#444" stroke-width="0.5"/>
<line x1="54.65" y1="231.5" x2="54.65" y2="233.1" stroke="#444" stroke-width="0.5"/>
<text x="19.75" y="204.53" class="tk" text-anchor="end">0.25</text>
<text x="54.65" y="238.3" class="tk" text-anchor="middle">0.25</text>
<line x1="20.35" y1="178.75" x2="21.95" y2="178.75" stroke="#444" stroke-width="0.5"/>
<line x1="81.9" y1="231.5" x2="81.9" y2="233.1" stroke="#444" stroke-width="0.5"/>
<text x="19.75" y="180.55" class="tk" text-anchor="end">0.50</text>
<text x="81.9" y="238.3" class="tk" text-anchor="middle">0.50</text>
<line x1="20.35" y1="154.78" x2="21.95" y2="154.78" stroke="#444" stroke-width="0.5"/>
<line x1="109.15" y1="231.5" x2="109.15" y2="233.1" stroke="#444" stroke-width="0.5"/>
<text x="19.75" y="156.58" class="tk" text-anchor="end">0.75</text>
<text x="109.15" y="238.3" class="tk" text-anchor="middle">0.75</text>
<line x1="20.35" y1="130.8" x2="21.95" y2="130.8" stroke="#444" stroke-width="0.5"/>
<line x1="136.4" y1="231.5" x2="136.4" y2="233.1" stroke="#444" stroke-width="0.5"/>
<text x="19.75" y="132.6" class="tk" text-anchor="end">1.00</text>
<text x="136.4" y="238.3" class="tk" text-anchor="middle">1.00</text>
<text x="77.8" y="245.1" class="at" text-anchor="middle">Priority rank</text>
<text transform="translate(7,179.1) rotate(-90)" class="at" text-anchor="middle">coverage of features</text>
<path d="M27.4,130.8 C35.58,131.02 65.52,130.82 76.5,132.1 C87.48,133.38 89.32,136.85 93.3,138.5 C97.28,140.15 98.33,140.92 100.4,142 C102.47,143.08 104,143.97 105.7,145 C107.4,146.03 109.25,146.85 110.6,148.2 C111.95,149.55 112.73,150.95 113.8,153.1 C114.87,155.25 115.92,158.15 117,161.1 C118.08,164.05 119.35,167.57 120.3,170.8 C121.25,174.03 121.92,177.3 122.7,180.5 C123.48,183.7 124.12,186.75 125,190 C125.88,193.25 126.92,196.67 128,200 C129.08,203.33 130.1,205.55 131.5,210 C132.9,214.45 135.58,223.92 136.4,226.7" fill="none" stroke="#f0d87c" stroke-width="1.3" stroke-linejoin="round" stroke-linecap="round"/>
<path d="M27.4,130.8 C32.83,130.83 51.23,130.63 60,131 C68.77,131.37 74.17,131.92 80,133 C85.83,134.08 90.83,136.08 95,137.5 C99.17,138.92 102.13,140.25 105,141.5 C107.87,142.75 110.33,143.62 112.2,145 C114.07,146.38 114.98,147.65 116.2,149.8 C117.42,151.95 118.42,154.67 119.5,157.9 C120.58,161.13 121.77,165.97 122.7,169.2 C123.63,172.43 124.3,174.33 125.1,177.3 C125.9,180.27 126.68,183.55 127.5,187 C128.32,190.45 129.08,194.17 130,198 C130.92,201.83 131.93,205.22 133,210 C134.07,214.78 135.83,223.92 136.4,226.7" fill="none" stroke="#f6d3ad" stroke-width="1.1" stroke-linejoin="round" stroke-linecap="round"/>
<path d="M27.4,130.8 C31.22,130.82 43.93,130.62 50.3,130.9 C56.67,131.18 60.88,131.57 65.6,132.5 C70.32,133.43 74.87,135.08 78.6,136.5 C82.33,137.92 85.35,139.58 88,141 C90.65,142.42 92.62,143.53 94.5,145 C96.38,146.47 97.7,147.92 99.3,149.8 C100.9,151.68 102.48,154.15 104.1,156.3 C105.72,158.45 107.52,160.55 109,162.7 C110.48,164.85 111.67,166.77 113,169.2 C114.33,171.63 115.78,174.67 117,177.3 C118.22,179.93 119.22,182.05 120.3,185 C121.38,187.95 122.38,191.5 123.5,195 C124.62,198.5 125.83,202.67 127,206 C128.17,209.33 128.93,211.55 130.5,215 C132.07,218.45 135.42,224.75 136.4,226.7" fill="none" stroke="#c9b3a6" stroke-width="1.1" stroke-linejoin="round" stroke-linecap="round"/>
<path d="M27.4,130.8 C30.13,131.08 38.53,131.63 43.8,132.5 C49.07,133.37 55.25,134.75 59,136 C62.75,137.25 64.28,138.8 66.3,140 C68.32,141.2 69.48,142.2 71.1,143.2 C72.72,144.2 74.35,144.82 76,146 C77.65,147.18 79.3,148.8 81,150.3 C82.7,151.8 84.25,153.25 86.2,155 C88.15,156.75 90.65,158.98 92.7,160.8 C94.75,162.62 96.8,164.32 98.5,165.9 C100.2,167.48 101.57,168.87 102.9,170.3 C104.23,171.73 105.22,173.02 106.5,174.5 C107.78,175.98 109.25,177.45 110.6,179.2 C111.95,180.95 113.32,182.53 114.6,185 C115.88,187.47 116.98,191 118.3,194 C119.62,197 121.05,200 122.5,203 C123.95,206 124.68,208.05 127,212 C129.32,215.95 134.83,224.25 136.4,226.7" fill="none" stroke="#90e4e4" stroke-width="1.1" stroke-linejoin="round" stroke-linecap="round"/>
<path d="M27.4,130.8 C28.83,131.47 33.57,133.52 36,134.8 C38.43,136.08 39.98,137.28 42,138.5 C44.02,139.72 46.08,140.7 48.1,142.1 C50.12,143.5 52.08,145.28 54.1,146.9 C56.12,148.52 57.9,149.87 60.2,151.8 C62.5,153.73 65.53,156.43 67.9,158.5 C70.27,160.57 72.25,162.18 74.4,164.2 C76.55,166.22 78.65,168.45 80.8,170.6 C82.95,172.75 85.25,175.2 87.3,177.1 C89.35,179 90.8,180.27 93.1,182 C95.4,183.73 98.08,184.77 101.1,187.5 C104.12,190.23 107.32,194.17 111.2,198.4 C115.08,202.63 120.2,208.18 124.4,212.9 C128.6,217.62 134.4,224.4 136.4,226.7" fill="none" stroke="#959595" stroke-width="1.05" stroke-linejoin="round" stroke-linecap="round"/>
<path d="M27.4,130.8 C31.25,130.87 45.85,130.83 50.5,131.2 C55.15,131.57 53.98,132.3 55.3,133 C56.62,133.7 57.48,134.48 58.4,135.4 C59.32,136.32 60,137.38 60.8,138.5 C61.6,139.62 62.55,141.18 63.2,142.1 C63.85,143.02 63.92,142.87 64.7,144 C65.48,145.13 66.83,147.42 67.9,148.9 C68.97,150.38 70.02,151.57 71.1,152.9 C72.18,154.23 73.18,155.42 74.4,156.9 C75.62,158.38 77.2,160.32 78.4,161.8 C79.6,163.28 80.53,164.47 81.6,165.8 C82.67,167.13 83.72,168.45 84.8,169.8 C85.88,171.15 87.02,172.55 88.1,173.9 C89.18,175.25 90.48,176.88 91.3,177.9 C92.12,178.92 92.07,178.82 93,180 C93.93,181.18 95.65,183.42 96.9,185 C98.15,186.58 99.37,188.08 100.5,189.5 C101.63,190.92 102.62,191.78 103.7,193.5 C104.78,195.22 105.73,197.3 107,199.8 C108.27,202.3 109.85,205.78 111.3,208.5 C112.75,211.22 114.25,213.92 115.7,216.1 C117.15,218.28 118.37,220.15 120,221.6 C121.63,223.05 122.77,223.95 125.5,224.8 C128.23,225.65 134.58,226.38 136.4,226.7" fill="none" stroke="#e00c0c" stroke-width="1.6" stroke-linejoin="round" stroke-linecap="round"/>
<path d="M27.4,130.8 C28.83,130.97 33.35,131.43 36,131.8 C38.65,132.17 40.88,132.6 43.3,133 C45.72,133.4 48.08,133.7 50.5,134.2 C52.92,134.7 55.22,135.28 57.8,136 C60.38,136.72 64.05,137.83 66,138.5 C67.95,139.17 67.83,139.35 69.5,140 C71.17,140.65 73.85,141.47 76,142.4 C78.15,143.33 80.32,144.42 82.4,145.6 C84.48,146.78 86.48,148.12 88.5,149.5 C90.52,150.88 91.97,151.97 94.5,153.9 C97.03,155.83 101.28,159.08 103.7,161.1 C106.12,163.12 107.32,164.25 109,166 C110.68,167.75 112.33,169.45 113.8,171.6 C115.27,173.75 116.72,176.67 117.8,178.9 C118.88,181.13 119.2,182.6 120.3,185 C121.4,187.4 122.63,189.38 124.4,193.3 C126.17,197.22 128.9,202.93 130.9,208.5 C132.9,214.07 135.48,223.67 136.4,226.7" fill="none" stroke="#0a550f" stroke-width="1.6" stroke-linejoin="round" stroke-linecap="round"/>
<line x1="103.5" y1="126" x2="103.5" y2="231.5" stroke="#707070" stroke-width="1.15"/>
<circle cx="103.5" cy="161.1" r="1.3" fill="#000"/>
<text x="87.8" y="167" class="lb">0.68</text>
<circle cx="103.5" cy="193.5" r="1.3" fill="#000"/>
<text x="86.9" y="199.1" class="lb">0.34</text>
<text x="27.2" y="206.2" class="bn">Benefits per unit</text>
<text x="27.2" y="213.3" class="bn">of value: <tspan class="rv">2.00</tspan></text>
<text x="26.2" y="226.5" class="pl">E</text>
<rect x="165.85" y="126" width="119.9" height="105.5" fill="#fff"/>
<line x1="184.93" y1="126" x2="184.93" y2="231.5" stroke="#f4f4f4" stroke-width="0.5"/>
<line x1="165.85" y1="214.71" x2="285.75" y2="214.71" stroke="#f4f4f4" stroke-width="0.5"/>
<line x1="212.18" y1="126" x2="212.18" y2="231.5" stroke="#f4f4f4" stroke-width="0.5"/>
<line x1="165.85" y1="190.74" x2="285.75" y2="190.74" stroke="#f4f4f4" stroke-width="0.5"/>
<line x1="239.43" y1="126" x2="239.43" y2="231.5" stroke="#f4f4f4" stroke-width="0.5"/>
<line x1="165.85" y1="166.76" x2="285.75" y2="166.76" stroke="#f4f4f4" stroke-width="0.5"/>
<line x1="266.68" y1="126" x2="266.68" y2="231.5" stroke="#f4f4f4" stroke-width="0.5"/>
<line x1="165.85" y1="142.79" x2="285.75" y2="142.79" stroke="#f4f4f4" stroke-width="0.5"/>
<line x1="171.3" y1="126" x2="171.3" y2="231.5" stroke="#ececec" stroke-width="0.6"/>
<line x1="165.85" y1="226.7" x2="285.75" y2="226.7" stroke="#ececec" stroke-width="0.6"/>
<line x1="198.55" y1="126" x2="198.55" y2="231.5" stroke="#ececec" stroke-width="0.6"/>
<line x1="165.85" y1="202.73" x2="285.75" y2="202.73" stroke="#ececec" stroke-width="0.6"/>
<line x1="225.8" y1="126" x2="225.8" y2="231.5" stroke="#ececec" stroke-width="0.6"/>
<line x1="165.85" y1="178.75" x2="285.75" y2="178.75" stroke="#ececec" stroke-width="0.6"/>
<line x1="253.05" y1="126" x2="253.05" y2="231.5" stroke="#ececec" stroke-width="0.6"/>
<line x1="165.85" y1="154.78" x2="285.75" y2="154.78" stroke="#ececec" stroke-width="0.6"/>
<line x1="280.3" y1="126" x2="280.3" y2="231.5" stroke="#ececec" stroke-width="0.6"/>
<line x1="165.85" y1="130.8" x2="285.75" y2="130.8" stroke="#ececec" stroke-width="0.6"/>
<rect x="165.85" y="126" width="119.9" height="105.5" fill="none" stroke="#d0d0d0" stroke-width="0.9"/>
<line x1="164.25" y1="226.7" x2="165.85" y2="226.7" stroke="#444" stroke-width="0.5"/>
<line x1="171.3" y1="231.5" x2="171.3" y2="233.1" stroke="#444" stroke-width="0.5"/>
<text x="163.65" y="228.5" class="tk" text-anchor="end">0.00</text>
<text x="171.3" y="238.3" class="tk" text-anchor="middle">0.00</text>
<line x1="164.25" y1="202.73" x2="165.85" y2="202.73" stroke="#444" stroke-width="0.5"/>
<line x1="198.55" y1="231.5" x2="198.55" y2="233.1" stroke="#444" stroke-width="0.5"/>
<text x="163.65" y="204.53" class="tk" text-anchor="end">0.25</text>
<text x="198.55" y="238.3" class="tk" text-anchor="middle">0.25</text>
<line x1="164.25" y1="178.75" x2="165.85" y2="178.75" stroke="#444" stroke-width="0.5"/>
<line x1="225.8" y1="231.5" x2="225.8" y2="233.1" stroke="#444" stroke-width="0.5"/>
<text x="163.65" y="180.55" class="tk" text-anchor="end">0.50</text>
<text x="225.8" y="238.3" class="tk" text-anchor="middle">0.50</text>
<line x1="164.25" y1="154.78" x2="165.85" y2="154.78" stroke="#444" stroke-width="0.5"/>
<line x1="253.05" y1="231.5" x2="253.05" y2="233.1" stroke="#444" stroke-width="0.5"/>
<text x="163.65" y="156.58" class="tk" text-anchor="end">0.75</text>
<text x="253.05" y="238.3" class="tk" text-anchor="middle">0.75</text>
<line x1="164.25" y1="130.8" x2="165.85" y2="130.8" stroke="#444" stroke-width="0.5"/>
<line x1="280.3" y1="231.5" x2="280.3" y2="233.1" stroke="#444" stroke-width="0.5"/>
<text x="163.65" y="132.6" class="tk" text-anchor="end">1.00</text>
<text x="280.3" y="238.3" class="tk" text-anchor="middle">1.00</text>
<text x="228.4" y="245.1" class="at" text-anchor="middle">Priority rank</text>
<text transform="translate(152,177.4) rotate(-90)" class="at" text-anchor="middle">coverage of features</text>
<path d="M171.4,130.8 C173,131.82 177.95,135.08 181,136.9 C184.05,138.72 186.8,140.55 189.7,141.7 C192.6,142.85 195.85,142.97 198.4,143.8 C200.95,144.63 202.82,145.68 205,146.7 C207.18,147.72 209.88,148.63 211.5,149.9 C213.12,151.17 212.9,153.4 214.7,154.3 C216.5,155.2 219.83,154.95 222.3,155.3 C224.77,155.65 227.97,154.78 229.5,156.4 C231.03,158.02 230.83,161.73 231.5,165 C232.17,168.27 232.62,171.5 233.5,176 C234.38,180.5 235.65,187.58 236.8,192 C237.95,196.42 239.18,199.42 240.4,202.5 C241.62,205.58 242.88,207.85 244.1,210.5 C245.32,213.15 246.38,216.4 247.7,218.4 C249.02,220.4 248.57,221.4 252,222.5 C255.43,223.6 263.58,224.3 268.3,225 C273.02,225.7 278.3,226.42 280.3,226.7" fill="none" stroke="#f0d87c" stroke-width="1.3" stroke-linejoin="round" stroke-linecap="round"/>
<path d="M171.4,130.8 C174.5,133.5 183.63,142.05 190,147 C196.37,151.95 204.93,157.83 209.6,160.5 C214.27,163.17 214.68,162 218,163 C221.32,164 227.17,164.33 229.5,166.5 C231.83,168.67 231.08,172.75 232,176 C232.92,179.25 233.83,182.33 235,186 C236.17,189.67 237.67,194.33 239,198 C240.33,201.67 241.55,204.6 243,208 C244.45,211.4 245.53,215.9 247.7,218.4 C249.87,220.9 250.57,221.62 256,223 C261.43,224.38 276.25,226.08 280.3,226.7" fill="none" stroke="#f6d3ad" stroke-width="1.1" stroke-linejoin="round" stroke-linecap="round"/>
<path d="M171.4,130.8 C173.37,132.58 179.42,138.08 183.2,141.5 C186.98,144.92 190.47,148.05 194.1,151.3 C197.73,154.55 201.73,158.13 205,161 C208.27,163.87 211.17,166.17 213.7,168.5 C216.23,170.83 218.15,173.08 220.2,175 C222.25,176.92 223.95,178.17 226,180 C228.05,181.83 230.58,183.33 232.5,186 C234.42,188.67 235.92,192.67 237.5,196 C239.08,199.33 240.3,203 242,206 C243.7,209 245.37,212 247.7,214 C250.03,216 252.62,216.83 256,218 C259.38,219.17 263.95,219.55 268,221 C272.05,222.45 278.25,225.75 280.3,226.7" fill="none" stroke="#c9b3a6" stroke-width="1.1" stroke-linejoin="round" stroke-linecap="round"/>
<path d="M171.4,130.8 C173.37,132.75 179.42,138.88 183.2,142.5 C186.98,146.12 190.47,149.2 194.1,152.5 C197.73,155.8 201.73,159.3 205,162.3 C208.27,165.3 211.37,168.47 213.7,170.5 C216.03,172.53 217.57,173.17 219,174.5 C220.43,175.83 220.13,176.42 222.3,178.5 C224.47,180.58 229.58,183.98 232,187 C234.42,190.02 235.2,192.98 236.8,196.6 C238.4,200.22 239.98,205.07 241.6,208.7 C243.22,212.33 245.27,215.77 246.5,218.4 C247.73,221.03 246.75,223.23 249,224.5 C251.25,225.77 254.78,225.63 260,226 C265.22,226.37 276.92,226.58 280.3,226.7" fill="none" stroke="#90e4e4" stroke-width="1.1" stroke-linejoin="round" stroke-linecap="round"/>
<path d="M171.4,130.8 C173.37,132.72 179.42,138.75 183.2,142.3 C186.98,145.85 190.47,148.83 194.1,152.1 C197.73,155.37 201.73,159 205,161.9 C208.27,164.8 211.37,167.4 213.7,169.5 C216.03,171.6 217.17,172.6 219,174.5 C220.83,176.4 222.33,178.83 224.7,180.9 C227.07,182.97 230.78,184.28 233.2,186.9 C235.62,189.52 236.78,193.37 239.2,196.6 C241.62,199.83 244.87,203.87 247.7,206.3 C250.53,208.73 252.77,209.38 256.2,211.2 C259.63,213.02 264.28,214.62 268.3,217.2 C272.32,219.78 278.3,225.12 280.3,226.7" fill="none" stroke="#959595" stroke-width="1.05" stroke-linejoin="round" stroke-linecap="round"/>
<path d="M171.4,130.8 C171.73,132.17 172.7,135.82 173.4,139 C174.1,142.18 174.68,146.27 175.6,149.9 C176.52,153.53 177.82,157.17 178.9,160.8 C179.98,164.43 181.18,168.67 182.1,171.7 C183.02,174.73 183.08,175.77 184.4,179 C185.72,182.23 187.62,187.08 190,191.1 C192.38,195.12 196.03,199.78 198.7,203.1 C201.37,206.42 203.28,208.65 206,211 C208.72,213.35 212.28,215.35 215,217.2 C217.72,219.05 219.68,220.52 222.3,222.1 C224.92,223.68 221.03,225.93 230.7,226.7 C240.37,227.47 272.03,226.7 280.3,226.7" fill="none" stroke="#e00c0c" stroke-width="1.6" stroke-linejoin="round" stroke-linecap="round"/>
<path d="M171.4,130.8 C172.65,131.63 176.57,134.07 178.9,135.8 C181.23,137.53 183.23,139.38 185.4,141.2 C187.57,143.02 189.73,144.7 191.9,146.7 C194.07,148.7 196.23,151.22 198.4,153.2 C200.57,155.18 202.72,156.88 204.9,158.6 C207.08,160.32 209.82,162.18 211.5,163.5 C213.18,164.82 213.58,165.42 215,166.5 C216.42,167.58 218.17,168.75 220,170 C221.83,171.25 224.22,172.78 226,174 C227.78,175.22 229.5,175.55 230.7,177.3 C231.9,179.05 232.18,181.68 233.2,184.5 C234.22,187.32 235.6,191.28 236.8,194.2 C238,197.12 239.2,199.7 240.4,202 C241.6,204.3 243.1,206.12 244,208 C244.9,209.88 245.28,211.67 245.8,213.3 C246.32,214.93 246.73,216.68 247.1,217.8 C247.47,218.92 247.48,219.42 248,220 C248.52,220.58 248.5,220.85 250.2,221.3 C251.9,221.75 254.9,222.18 258.2,222.7 C261.5,223.22 266.32,223.73 270,224.4 C273.68,225.07 278.58,226.32 280.3,226.7" fill="none" stroke="#0a550f" stroke-width="1.6" stroke-linejoin="round" stroke-linecap="round"/>
<line x1="247.8" y1="126" x2="247.8" y2="231.5" stroke="#707070" stroke-width="1.15"/>
<circle cx="247.8" cy="220" r="1.3" fill="#000"/>
<text x="249.6" y="219.1" class="lb">0.08</text>
<circle cx="247.8" cy="226.8" r="1.3" fill="#000"/>
<text x="240.8" y="226.1" class="lb">0</text>
<text x="189.5" y="132.6" class="bn">Benefits per unit</text>
<text x="189.5" y="139.7" class="bn">of value: <tspan class="rv">--</tspan></text>
<text x="172.5" y="226.6" class="pl">F</text>
<rect x="309.75" y="126" width="119.9" height="105.5" fill="#fff"/>
<line x1="328.82" y1="126" x2="328.82" y2="231.5" stroke="#f4f4f4" stroke-width="0.5"/>
<line x1="309.75" y1="214.71" x2="429.65" y2="214.71" stroke="#f4f4f4" stroke-width="0.5"/>
<line x1="356.07" y1="126" x2="356.07" y2="231.5" stroke="#f4f4f4" stroke-width="0.5"/>
<line x1="309.75" y1="190.74" x2="429.65" y2="190.74" stroke="#f4f4f4" stroke-width="0.5"/>
<line x1="383.32" y1="126" x2="383.32" y2="231.5" stroke="#f4f4f4" stroke-width="0.5"/>
<line x1="309.75" y1="166.76" x2="429.65" y2="166.76" stroke="#f4f4f4" stroke-width="0.5"/>
<line x1="410.57" y1="126" x2="410.57" y2="231.5" stroke="#f4f4f4" stroke-width="0.5"/>
<line x1="309.75" y1="142.79" x2="429.65" y2="142.79" stroke="#f4f4f4" stroke-width="0.5"/>
<line x1="315.2" y1="126" x2="315.2" y2="231.5" stroke="#ececec" stroke-width="0.6"/>
<line x1="309.75" y1="226.7" x2="429.65" y2="226.7" stroke="#ececec" stroke-width="0.6"/>
<line x1="342.45" y1="126" x2="342.45" y2="231.5" stroke="#ececec" stroke-width="0.6"/>
<line x1="309.75" y1="202.73" x2="429.65" y2="202.73" stroke="#ececec" stroke-width="0.6"/>
<line x1="369.7" y1="126" x2="369.7" y2="231.5" stroke="#ececec" stroke-width="0.6"/>
<line x1="309.75" y1="178.75" x2="429.65" y2="178.75" stroke="#ececec" stroke-width="0.6"/>
<line x1="396.95" y1="126" x2="396.95" y2="231.5" stroke="#ececec" stroke-width="0.6"/>
<line x1="309.75" y1="154.78" x2="429.65" y2="154.78" stroke="#ececec" stroke-width="0.6"/>
<line x1="424.2" y1="126" x2="424.2" y2="231.5" stroke="#ececec" stroke-width="0.6"/>
<line x1="309.75" y1="130.8" x2="429.65" y2="130.8" stroke="#ececec" stroke-width="0.6"/>
<rect x="309.75" y="126" width="119.9" height="105.5" fill="none" stroke="#d0d0d0" stroke-width="0.9"/>
<line x1="308.15" y1="226.7" x2="309.75" y2="226.7" stroke="#444" stroke-width="0.5"/>
<line x1="315.2" y1="231.5" x2="315.2" y2="233.1" stroke="#444" stroke-width="0.5"/>
<text x="307.55" y="228.5" class="tk" text-anchor="end">0.00</text>
<text x="315.2" y="238.3" class="tk" text-anchor="middle">0.00</text>
<line x1="308.15" y1="202.73" x2="309.75" y2="202.73" stroke="#444" stroke-width="0.5"/>
<line x1="342.45" y1="231.5" x2="342.45" y2="233.1" stroke="#444" stroke-width="0.5"/>
<text x="307.55" y="204.53" class="tk" text-anchor="end">0.25</text>
<text x="342.45" y="238.3" class="tk" text-anchor="middle">0.25</text>
<line x1="308.15" y1="178.75" x2="309.75" y2="178.75" stroke="#444" stroke-width="0.5"/>
<line x1="369.7" y1="231.5" x2="369.7" y2="233.1" stroke="#444" stroke-width="0.5"/>
<text x="307.55" y="180.55" class="tk" text-anchor="end">0.50</text>
<text x="369.7" y="238.3" class="tk" text-anchor="middle">0.50</text>
<line x1="308.15" y1="154.78" x2="309.75" y2="154.78" stroke="#444" stroke-width="0.5"/>
<line x1="396.95" y1="231.5" x2="396.95" y2="233.1" stroke="#444" stroke-width="0.5"/>
<text x="307.55" y="156.58" class="tk" text-anchor="end">0.75</text>
<text x="396.95" y="238.3" class="tk" text-anchor="middle">0.75</text>
<line x1="308.15" y1="130.8" x2="309.75" y2="130.8" stroke="#444" stroke-width="0.5"/>
<line x1="424.2" y1="231.5" x2="424.2" y2="233.1" stroke="#444" stroke-width="0.5"/>
<text x="307.55" y="132.6" class="tk" text-anchor="end">1.00</text>
<text x="424.2" y="238.3" class="tk" text-anchor="middle">1.00</text>
<text x="372.8" y="245.1" class="at" text-anchor="middle">Priority rank</text>
<text transform="translate(294.9,180.6) rotate(-90)" class="at" text-anchor="middle">coverage of features</text>
<path d="M315.4,130.8 C318.13,131.27 323.62,132.95 331.8,133.6 C339.98,134.25 354.7,134.33 364.5,134.7 C374.3,135.07 385.17,135.07 390.6,135.8 C396.03,136.53 395.28,137.9 397.1,139.1 C398.92,140.3 400.07,141.18 401.5,143 C402.93,144.82 404.45,147.75 405.7,150 C406.95,152.25 407.92,153.82 409,156.5 C410.08,159.18 411.13,162.62 412.2,166.1 C413.27,169.58 414.47,173.42 415.4,177.4 C416.33,181.38 416.95,186.23 417.8,190 C418.65,193.77 419.65,196.55 420.5,200 C421.35,203.45 422.28,206.25 422.9,210.7 C423.52,215.15 423.98,224.03 424.2,226.7" fill="none" stroke="#f0d87c" stroke-width="1.3" stroke-linejoin="round" stroke-linecap="round"/>
<path d="M315.4,130.8 C329.02,130.8 382.75,130.52 397.1,130.8 C411.45,131.08 400.02,131.47 401.5,132.5 C402.98,133.53 404.67,135.33 406,137 C407.33,138.67 408.33,140.33 409.5,142.5 C410.67,144.67 411.75,147.4 413,150 C414.25,152.6 415.78,154.87 417,158.1 C418.22,161.33 419.43,165.42 420.3,169.4 C421.17,173.38 421.7,177.73 422.2,182 C422.7,186.27 423.02,190.33 423.3,195 C423.58,199.67 423.75,204.72 423.9,210 C424.05,215.28 424.15,223.92 424.2,226.7" fill="none" stroke="#f6d3ad" stroke-width="1.1" stroke-linejoin="round" stroke-linecap="round"/>
<path d="M315.4,130.8 C316.67,131.75 320.27,134.8 323,136.5 C325.73,138.2 328.13,139.75 331.8,141 C335.47,142.25 340.3,143.03 345,144 C349.7,144.97 355,145.55 360,146.8 C365,148.05 370.83,150.05 375,151.5 C379.17,152.95 382.22,154.17 385,155.5 C387.78,156.83 389.58,158 391.7,159.5 C393.82,161 395.9,162.58 397.7,164.5 C399.5,166.42 401.03,168.58 402.5,171 C403.97,173.42 405.28,175.83 406.5,179 C407.72,182.17 408.63,186.5 409.8,190 C410.97,193.5 411.98,196.5 413.5,200 C415.02,203.5 417.12,206.55 418.9,211 C420.68,215.45 423.32,224.08 424.2,226.7" fill="none" stroke="#c9b3a6" stroke-width="1.1" stroke-linejoin="round" stroke-linecap="round"/>
<path d="M315.4,130.8 C316.67,132 320.28,135.9 323,138 C325.72,140.1 329.15,141.95 331.7,143.4 C334.25,144.85 335.4,145.85 338.3,146.7 C341.2,147.55 346.32,147.93 349.1,148.5 C351.88,149.07 352.67,149.57 355,150.1 C357.33,150.63 360.42,151.03 363.1,151.7 C365.78,152.37 368.42,153.15 371.1,154.1 C373.78,155.05 376.78,156.18 379.2,157.4 C381.62,158.62 383.98,160.07 385.6,161.4 C387.22,162.73 387.7,163.63 388.9,165.4 C390.1,167.17 391.33,169.47 392.8,172 C394.27,174.53 396.08,177.6 397.7,180.6 C399.32,183.6 400.78,186.77 402.5,190 C404.22,193.23 405.98,196.5 408,200 C410.02,203.5 411.9,206.55 414.6,211 C417.3,215.45 422.6,224.08 424.2,226.7" fill="none" stroke="#90e4e4" stroke-width="1.1" stroke-linejoin="round" stroke-linecap="round"/>
<path d="M315.4,130.8 C316.67,132 320.28,135.72 323,138 C325.72,140.28 328.8,142.58 331.7,144.5 C334.6,146.42 337.5,147.87 340.4,149.5 C343.3,151.13 346.67,152.85 349.1,154.3 C351.53,155.75 352.93,156.88 355,158.2 C357.07,159.52 359.35,160.73 361.5,162.2 C363.65,163.67 365.75,165.38 367.9,167 C370.05,168.62 372.25,170.07 374.4,171.9 C376.55,173.73 377.92,175.17 380.8,178 C383.68,180.83 387.88,184.9 391.7,188.9 C395.52,192.9 399.88,197.65 403.7,202 C407.52,206.35 411.18,210.88 414.6,215 C418.02,219.12 422.6,224.75 424.2,226.7" fill="none" stroke="#959595" stroke-width="1.05" stroke-linejoin="round" stroke-linecap="round"/>
<path d="M315.4,130.8 C315.43,131.88 315.42,134.87 315.6,137.3 C315.78,139.73 316.15,142.72 316.5,145.4 C316.85,148.08 317.17,150.98 317.7,153.4 C318.23,155.82 318.93,157.75 319.7,159.9 C320.47,162.05 321.3,164.13 322.3,166.3 C323.3,168.47 324.47,170.72 325.7,172.9 C326.93,175.08 328.35,177.52 329.7,179.4 C331.05,181.28 332.45,182.87 333.8,184.2 C335.15,185.53 336.05,186.73 337.8,187.4 C339.55,188.07 341.88,187.93 344.3,188.2 C346.72,188.47 349.35,188.53 352.3,189 C355.25,189.47 359.25,190.12 362,191 C364.75,191.88 365.85,192.65 368.8,194.3 C371.75,195.95 376.78,199.08 379.7,200.9 C382.62,202.72 384.3,204.1 386.3,205.2 C388.3,206.3 389.9,206.22 391.7,207.5 C393.5,208.78 395.1,211.1 397.1,212.9 C399.1,214.7 401.52,216.67 403.7,218.3 C405.88,219.93 408.02,221.5 410.2,222.7 C412.38,223.9 414.47,224.83 416.8,225.5 C419.13,226.17 422.97,226.5 424.2,226.7" fill="none" stroke="#e00c0c" stroke-width="1.6" stroke-linejoin="round" stroke-linecap="round"/>
<path d="M315.4,130.8 C316.67,131.63 320.28,134.43 323,135.8 C325.72,137.17 329.15,138.1 331.7,139 C334.25,139.9 335.4,140.47 338.3,141.2 C341.2,141.93 346.32,142.85 349.1,143.4 C351.88,143.95 352.67,144.05 355,144.5 C357.33,144.95 360.42,145.43 363.1,146.1 C365.78,146.77 368.42,147.7 371.1,148.5 C373.78,149.3 376.5,149.97 379.2,150.9 C381.9,151.83 385.22,153.02 387.3,154.1 C389.38,155.18 390.23,156.33 391.7,157.4 C393.17,158.47 394.57,159.05 396.1,160.5 C397.63,161.95 399.3,163.82 400.9,166.1 C402.5,168.38 404.08,171.23 405.7,174.2 C407.32,177.17 409.25,181.27 410.6,183.9 C411.95,186.53 412.65,187.32 413.8,190 C414.95,192.68 416.28,196.5 417.5,200 C418.72,203.5 419.98,206.55 421.1,211 C422.22,215.45 423.68,224.08 424.2,226.7" fill="none" stroke="#0a550f" stroke-width="1.6" stroke-linejoin="round" stroke-linecap="round"/>
<line x1="391.7" y1="126" x2="391.7" y2="231.5" stroke="#707070" stroke-width="1.15"/>
<circle cx="391.7" cy="157.4" r="1.3" fill="#000"/>
<text x="375.4" y="164.8" class="lb" style="font-weight:bold;stroke-width:0.05px">0.72</text>
<circle cx="391.7" cy="207.5" r="1.3" fill="#000"/>
<text x="374.9" y="214" class="lb">0.20</text>
<text x="316.5" y="207" class="bn">Benefits per unit</text>
<text x="316.5" y="214.1" class="bn">of value: <tspan class="rv">3.60</tspan></text>
<text x="315.7" y="226.4" class="pl">G</text>
<line x1="451.6" y1="154.7" x2="459.2" y2="154.7" stroke="#eee08e" stroke-width="2.0"/>
<text x="465.4" y="158.2" class="lg">BC</text>
<line x1="451.6" y1="164.0" x2="459.2" y2="164.0" stroke="#7a7a7a" stroke-width="2.0"/>
<text x="465.4" y="167.5" class="lg">SR</text>
<line x1="451.6" y1="173.3" x2="459.2" y2="173.3" stroke="#80e0e0" stroke-width="2.0"/>
<text x="465.4" y="176.8" class="lg">SC</text>
<line x1="451.6" y1="182.6" x2="459.2" y2="182.6" stroke="#f3cda5" stroke-width="2.0"/>
<text x="465.4" y="186.1" class="lg">SF</text>
<line x1="451.6" y1="191.9" x2="459.2" y2="191.9" stroke="#b0a098" stroke-width="2.0"/>
<text x="465.4" y="195.4" class="lg">WY</text>
<line x1="451.6" y1="201.2" x2="459.2" y2="201.2" stroke="#e00000" stroke-width="2.0"/>
<text x="465.4" y="204.7" class="lg">cost</text>
<line x1="451.6" y1="210.5" x2="459.2" y2="210.5" stroke="#004d00" stroke-width="2.0"/>
<text x="465.4" y="214" class="lg">AVE</text>
</svg>
</body></html>
